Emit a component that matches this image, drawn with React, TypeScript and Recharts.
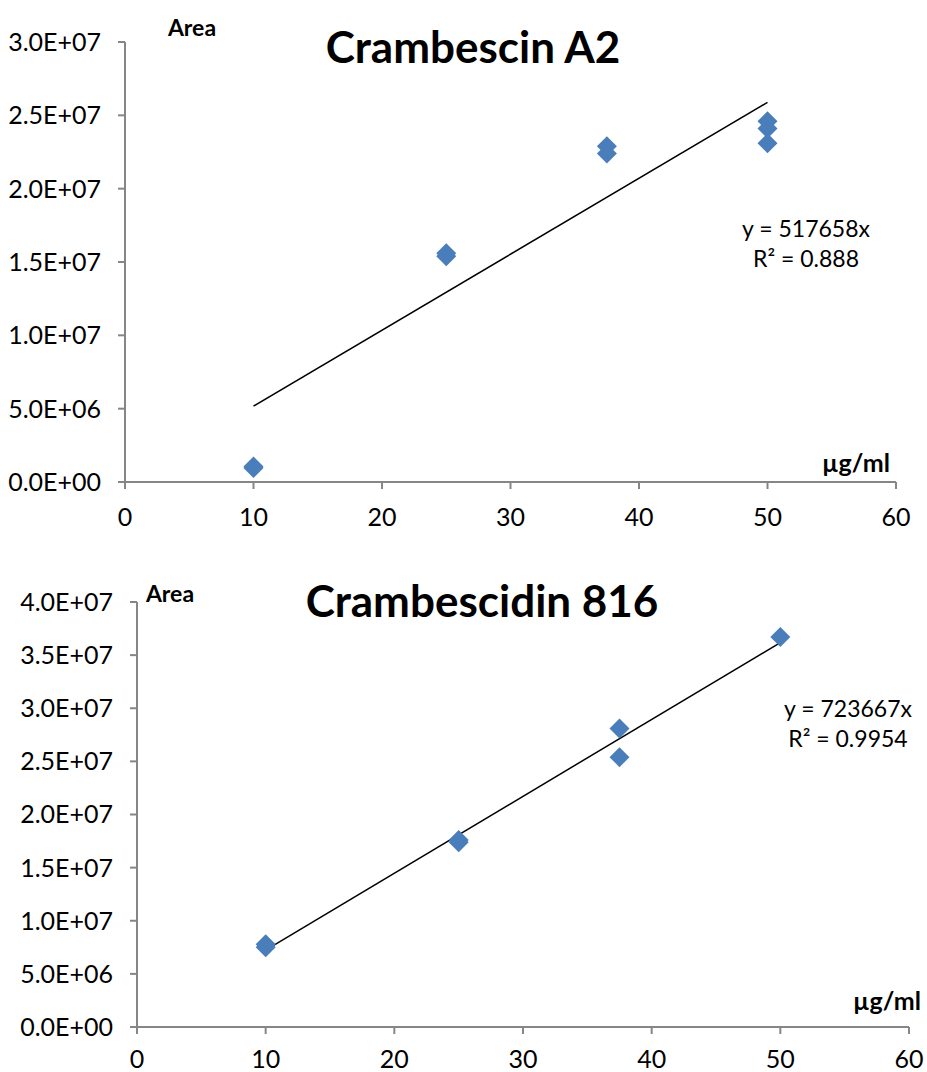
import React from "react";
import { ScatterChart, Scatter, XAxis, YAxis, ReferenceLine } from "recharts";

// concentration ticks shared by both panels (µg/ml)
const xTicks = [0, 10, 20, 30, 40, 50, 60];
const trendX = [10, 50];

// Crambescin A2
const a2Conc = [10, 10, 25, 25, 37.5, 37.5, 50, 50, 50];
const a2Area = [1050000, 950000, 15600000, 15400000, 22900000, 22400000, 24600000, 24100000, 23100000];
const a2Ticks = [0, 5e6, 1e7, 1.5e7, 2e7, 2.5e7, 3e7];
const a2Trend = [5176580, 25882900];

// Crambescidin 816
const c816Conc = [10, 10, 25, 25, 37.5, 37.5, 50];
const c816Area = [7800000, 7500000, 17600000, 17400000, 28100000, 25400000, 36700000];
const c816Ticks = [0, 5e6, 1e7, 1.5e7, 2e7, 2.5e7, 3e7, 3.5e7, 4e7];
const c816Trend = [7236670, 36183350];

const FONT = "Lato, 'Open Sans', sans-serif";
const AXIS = "#868686";
const MARKER = "#4A7EBB";

function sci(v: number) {
  if (v === 0) return "0.0E+00";
  const exp = Math.floor(Math.log10(v) + 1e-9);
  const mant = v / Math.pow(10, exp);
  return `${mant.toFixed(1)}E+${String(exp).padStart(2, "0")}`;
}

const Diamond = (props: any) => {
  const { cx, cy } = props;
  const r = 10;
  return (
    <polygon
      points={`${cx},${cy - r} ${cx + r},${cy} ${cx},${cy + r} ${cx - r},${cy}`}
      fill={MARKER}
    />
  );
};

function Txt({ x, y, size, bold, children }: any) {
  return (
    <div
      style={{
        position: "absolute",
        left: x,
        top: y,
        transform: "translate(-50%, -50%)",
        fontFamily: FONT,
        fontSize: size,
        fontWeight: bold ? 700 : 400,
        lineHeight: 1,
        whiteSpace: "nowrap",
        color: "#000",
        textAlign: "center",
      }}
    >
      {children}
    </div>
  );
}

function Panel({
  top,
  height,
  margin,
  yWidth,
  xHeight,
  xMargin,
  conc,
  area,
  yTicks,
  trend,
}: {
  top: number;
  height: number;
  margin: { top: number; right: number; left: number; bottom: number };
  yWidth: number;
  xHeight: number;
  xMargin: number;
  conc: number[];
  area: number[];
  yTicks: number[];
  trend: number[];
}) {
  const points = conc.map((c, i) => ({ x: c, y: area[i] }));
  const tickStyle = { fill: "#000", fontSize: 25, fontFamily: FONT };
  return (
    <div style={{ position: "absolute", left: 0, top }}>
      <ScatterChart width={927} height={height} margin={margin}>
        <XAxis
          type="number"
          dataKey="x"
          domain={[0, 60]}
          ticks={xTicks}
          height={xHeight}
          stroke={AXIS}
          strokeWidth={2}
          tickSize={7}
          tickMargin={xMargin}
          tick={tickStyle}
          interval={0}
        />
        <YAxis
          type="number"
          dataKey="y"
          domain={[yTicks[0], yTicks[yTicks.length - 1]]}
          ticks={yTicks}
          width={yWidth}
          stroke={AXIS}
          strokeWidth={2}
          tickSize={7}
          tickMargin={17}
          tick={tickStyle}
          tickFormatter={sci}
          interval={0}
        />
        <ReferenceLine
          segment={[
            { x: trendX[0], y: trend[0] },
            { x: trendX[1], y: trend[1] },
          ]}
          stroke="#000"
          strokeWidth={1.5}
          ifOverflow="visible"
        />
        <Scatter data={points} shape={Diamond} isAnimationActive={false} />
      </ScatterChart>
    </div>
  );
}

export default function App() {
  return (
    <div style={{ position: "absolute", left: 0, top: 0, width: 927, height: 1072, background: "#fff" }}>
      <Panel
        top={0}
        height={540}
        margin={{ top: 42, right: 31, left: 0, bottom: 0 }}
        yWidth={125}
        xHeight={58}
        xMargin={19}
        conc={a2Conc}
        area={a2Area}
        yTicks={a2Ticks}
        trend={a2Trend}
      />
      <Txt x={192} y={27} size={23} bold>Area</Txt>
      <Txt x={473} y={46} size={44} bold>Crambescin A2</Txt>
      <Txt x={856} y={462} size={25} bold>µg/ml</Txt>
      <Txt x={806} y={228} size={23}>y = 517658x</Txt>
      <Txt x={806} y={258} size={23}>R² = 0.888</Txt>

      <Panel
        top={545}
        height={527}
        margin={{ top: 57, right: 18, left: 0, bottom: 0 }}
        yWidth={137}
        xHeight={45}
        xMargin={16}
        conc={c816Conc}
        area={c816Area}
        yTicks={c816Ticks}
        trend={c816Trend}
      />
      <Txt x={170} y={593} size={23} bold>Area</Txt>
      <Txt x={482} y={600} size={44} bold>Crambescidin 816</Txt>
      <Txt x={887} y={1000} size={25} bold>µg/ml</Txt>
      <Txt x={848} y={708} size={23}>y = 723667x</Txt>
      <Txt x={848} y={738} size={23}>R² = 0.9954</Txt>
    </div>
  );
}
